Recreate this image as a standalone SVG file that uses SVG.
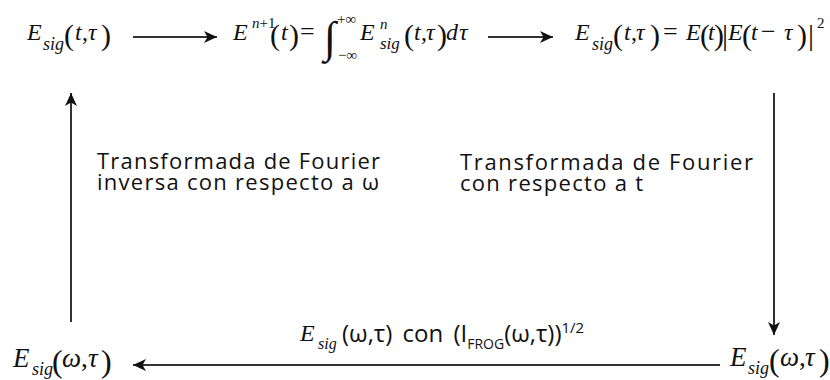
<svg xmlns="http://www.w3.org/2000/svg" width="830" height="380" viewBox="0 0 830 380">
<style>
.m{font-family:"Liberation Serif","Times New Roman",serif;font-style:italic;fill:#111;font-size:24px}
.r{font-style:normal}
.p{font-style:normal;font-size:30px}
.s{font-family:"Open Sans","Noto Sans",sans-serif;fill:#111;font-size:22px}
.ln{stroke:#333;stroke-width:2;fill:none}
</style>
<defs>
<marker id="ah" markerUnits="userSpaceOnUse" markerWidth="14" markerHeight="12" refX="13" refY="6" orient="auto">
<path d="M0,0 L13,6 L0,12 L3.5,6 z" fill="#111"/>
</marker>
</defs>
<rect width="830" height="380" fill="#fff"/>
<g id="connectors">
<line class="ln" x1="133" y1="37" x2="217" y2="37" marker-end="url(#ah)"/>
<line class="ln" x1="488" y1="37" x2="553" y2="37" marker-end="url(#ah)"/>
<line class="ln" x1="774" y1="93" x2="774" y2="335" marker-end="url(#ah)"/>
<line class="ln" x1="720" y1="365" x2="133" y2="365" marker-end="url(#ah)"/>
<line class="ln" x1="71" y1="322" x2="71" y2="93" marker-end="url(#ah)"/>
</g>
<g id="esig-t-tau">
<text class="m"><tspan x="27" y="40">E</tspan><tspan x="43" y="50" font-size="18">sig</tspan><tspan class="p" x="64" y="45">(</tspan><tspan x="75" y="40">t</tspan><tspan class="r" x="82" y="40">,</tspan><tspan x="88" y="40">τ</tspan><tspan class="p" x="101" y="45">)</tspan></text>
</g>
<g id="e-next">
<text class="m"><tspan x="233" y="40">E</tspan><tspan x="252" y="28" font-size="15">n</tspan><tspan class="r" y="28" font-size="15">+1</tspan><tspan class="p" x="270" y="45">(</tspan><tspan x="281" y="40">t</tspan><tspan class="p" x="289" y="45">)</tspan><tspan class="r" x="300" y="40" font-size="26">=</tspan><tspan class="r" x="324" y="52" font-size="44">∫</tspan><tspan class="r" x="337" y="24" font-size="15">+∞</tspan><tspan class="r" x="338" y="60" font-size="15">−∞</tspan><tspan x="360" y="40">E</tspan><tspan x="380" y="29" font-size="15">n</tspan><tspan x="380" y="49" font-size="17">sig</tspan><tspan class="p" x="404" y="45">(</tspan><tspan x="414" y="40">t</tspan><tspan class="r" x="421" y="40">,</tspan><tspan x="426" y="40">τ</tspan><tspan class="p" x="437" y="45">)</tspan><tspan x="446" y="40">d</tspan><tspan x="459" y="40">τ</tspan></text>
</g>
<g id="esig-def">
<text class="m"><tspan x="575" y="40">E</tspan><tspan x="592" y="50" font-size="18">sig</tspan><tspan class="p" x="613" y="45">(</tspan><tspan x="624" y="40">t</tspan><tspan class="r" x="631" y="40">,</tspan><tspan x="636" y="40">τ</tspan><tspan class="p" x="650" y="45">)</tspan><tspan class="r" x="663" y="40" font-size="26">=</tspan><tspan x="686" y="40">E</tspan><tspan class="p" x="700" y="45">(</tspan><tspan x="708" y="40">t</tspan><tspan class="p" x="714" y="45">)</tspan><tspan class="p" x="722" y="45">|</tspan><tspan x="728" y="40">E</tspan><tspan class="p" x="742" y="45">(</tspan><tspan x="751" y="40">t</tspan><tspan class="r" x="761" y="40" font-size="26">−</tspan><tspan x="784" y="40">τ</tspan><tspan class="p" x="797" y="45">)</tspan><tspan class="p" x="808" y="45">|</tspan><tspan class="r" x="817" y="28" font-size="15">2</tspan></text>
</g>
<g id="esig-omega-right">
<text class="m" style="font-size:27px"><tspan x="730" y="366">E</tspan><tspan x="748" y="374" style="font-size:18px">sig</tspan><tspan class="p" x="769" y="371" style="font-size:32px">(</tspan><tspan x="780" y="366">ω</tspan><tspan class="r" x="799" y="366">,</tspan><tspan x="805" y="366">τ</tspan><tspan class="p" x="819" y="371" style="font-size:32px">)</tspan></text>
</g>
<g id="esig-omega-left">
<text class="m" style="font-size:27px"><tspan x="13" y="367">E</tspan><tspan x="32" y="375" style="font-size:18px">sig</tspan><tspan class="p" x="52" y="372" style="font-size:32px">(</tspan><tspan x="62" y="367">ω</tspan><tspan class="r" x="81" y="367">,</tspan><tspan x="88" y="367">τ</tspan><tspan class="p" x="101" y="372" style="font-size:32px">)</tspan></text>
</g>
<g id="label-bottom">
<text class="m"><tspan x="300" y="341">E</tspan><tspan x="318" y="349" style="font-size:16px">sig</tspan></text>
<text class="s" style="font-size:24px;word-spacing:4px" xml:space="preserve"><tspan x="342" y="342">(ω,τ) con (I</tspan><tspan y="349" style="font-size:14px">FROG</tspan><tspan y="342">(ω,τ))</tspan><tspan y="333" style="font-size:15px">1/2</tspan></text>
</g>
<g id="label-left">
<text class="s"><tspan x="97" y="169" textLength="283" lengthAdjust="spacing">Transformada de Fourier</tspan><tspan x="97" y="190" textLength="282" lengthAdjust="spacing">inversa con respecto a ω</tspan></text>
</g>
<g id="label-right">
<text class="s"><tspan x="460" y="170" textLength="293" lengthAdjust="spacing">Transformada de Fourier</tspan><tspan x="460" y="191" textLength="183" lengthAdjust="spacing">con respecto a t</tspan></text>
</g>
</svg>
